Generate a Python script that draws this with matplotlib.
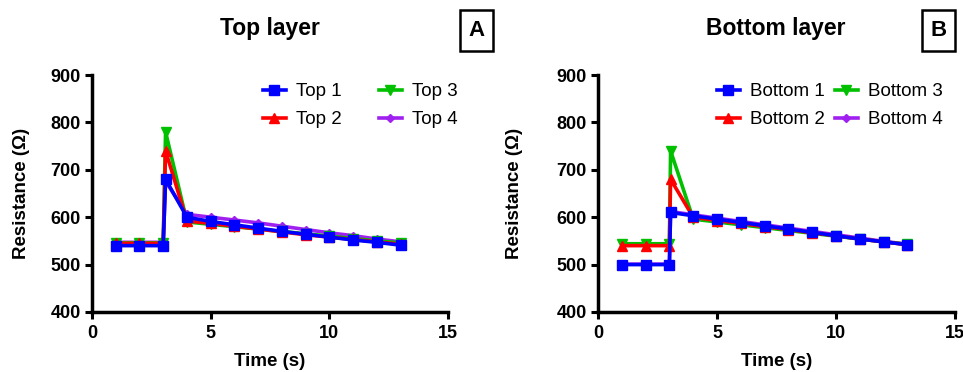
import matplotlib
matplotlib.use("Agg")
import matplotlib.pyplot as plt
from matplotlib.patches import Rectangle

plt.rcParams['font.family'] = ['Liberation Sans', 'DejaVu Sans']

time_top = [1, 2, 3, 3.1, 4, 5, 6, 7, 8, 9, 10, 11, 12, 13]
time_bottom = [1, 2, 3, 3.05, 4, 5, 6, 7, 8, 9, 10, 11, 12, 13]

top1 = [540, 540, 540, 680, 600, 591, 584, 577, 570, 564, 558, 552, 547, 541]
top2 = [545, 545, 545, 740, 592, 587, 581, 575, 569, 563, 558, 553, 548, 543]
top3 = [546, 546, 546, 780, 590, 585, 580, 575, 570, 565, 560, 555, 550, 546]
top4 = [547, 547, 547, 676, 606, 600, 594, 588, 581, 574, 567, 561, 554, 548]

bot1 = [500, 500, 500, 610, 603, 596, 589, 582, 575, 568, 561, 554, 548, 542]
bot2 = [540, 540, 540, 680, 600, 593, 587, 580, 574, 567, 561, 554, 548, 542]
bot3 = [544, 544, 544, 740, 596, 590, 584, 578, 572, 566, 560, 554, 548, 543]
bot4 = [501, 501, 501, 612, 605, 598, 591, 584, 577, 570, 563, 556, 549, 543]

top_labels = ["Top 1", "Top 2", "Top 3", "Top 4"]
bot_labels = ["Bottom 1", "Bottom 2", "Bottom 3", "Bottom 4"]

colors = ['#0000FF', '#FF0000', '#00C000', '#A020F0']
markers = ['s', '^', 'v', 'D']
msizes = [7, 6.5, 6.5, 4]

W, H = 963, 372
fig = plt.figure(figsize=(W/100, H/100), dpi=100)
ax1 = fig.add_axes([92/W, 1-312/H, (448-92)/W, (312-75)/H])
ax2 = fig.add_axes([598/W, 1-312/H, (955-598)/W, (312-75)/H])

def draw(ax, t, series, labels, title, tx, ylab_x, leg_x, colsp):
    handles = [None]*4
    for i in [3, 2, 1, 0]:
        h, = ax.plot(t, series[i], color=colors[i], marker=markers[i], ms=msizes[i],
                     lw=2.6, label=labels[i], zorder=3+(3-i), clip_on=False)
        handles[i] = h
    ax.set_xlim(0, 15)
    ax.set_ylim(400, 900)
    ax.set_xticks([0, 5, 10, 15])
    ax.set_yticks([400, 500, 600, 700, 800, 900])
    for s in ['top', 'right']:
        ax.spines[s].set_visible(False)
    for s in ['left', 'bottom']:
        ax.spines[s].set_linewidth(2.5)
    ax.tick_params(width=2.2, length=5, labelsize=13)
    ax.tick_params(axis='x', pad=4.5)
    ax.tick_params(axis='y', pad=3)
    for lab in ax.get_xticklabels() + ax.get_yticklabels():
        lab.set_fontweight('bold')
    ax.set_xlabel("Time (s)", fontsize=13.5, fontweight='bold', va='center')
    ax.xaxis.set_label_coords(0.5, (312-361)/237)
    ax.set_ylabel("Resistance (Ω)", fontsize=13.5, fontweight='bold', va='center')
    bb = ax.get_position()
    ax.yaxis.set_label_coords((ylab_x - bb.x0*W)/(bb.width*W), 0.5)
    fig.legend(handles=handles, loc='upper left', ncol=2, frameon=False,
               fontsize=13.5, handlelength=1.2, handletextpad=0.55, borderpad=0,
               borderaxespad=0, columnspacing=colsp, labelspacing=0.6,
               bbox_to_anchor=(leg_x/W, 1-83/H))
    fig.text(tx, 1-29/H, title, ha='center', va='center', fontsize=16.5, fontweight='bold')

draw(ax1, time_top, [top1, top2, top3, top4], top_labels, "Top layer", 270/W, 22, 263, 2.0)
draw(ax2, time_bottom, [bot1, bot2, bot3, bot4], bot_labels, "Bottom layer", 776/W, 514, 717, 0.55)

for (x0, x1, letter) in [(460, 493, "A"), (922, 955, "B")]:
    fig.patches.append(Rectangle((x0/W, 1-51/H), (x1-x0)/W, 41/H, transform=fig.transFigure,
                                 fill=False, ec='black', lw=1.8))
    fig.text((x0+x1)/2/W, 1-31/H, letter, ha='center', va='center', fontsize=16, fontweight='bold')

fig.savefig("out.png", dpi=100)
